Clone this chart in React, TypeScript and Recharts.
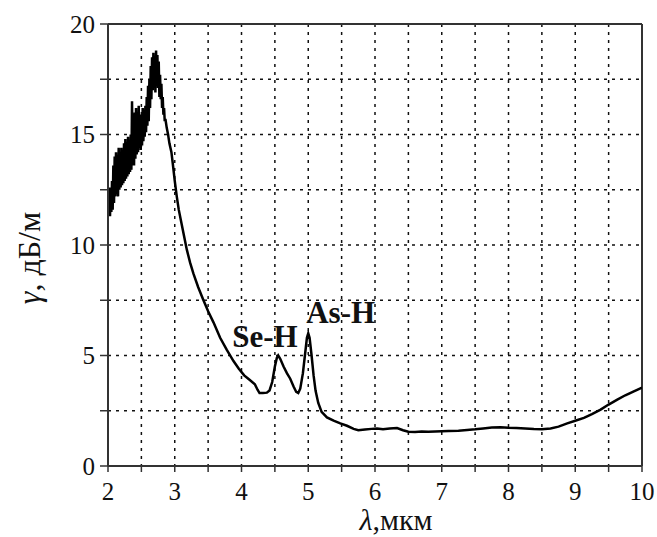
import React from 'react';
import { LineChart, Line, XAxis, YAxis, CartesianGrid, ReferenceLine, ReferenceDot } from 'recharts';

// wavelength, µm
const WAVELENGTH = [
  2.00, 2.01, 2.02, 2.03, 2.04, 2.05, 2.06, 2.07, 2.08, 2.09,
  2.10, 2.11, 2.12, 2.13, 2.14, 2.15, 2.16, 2.17, 2.18, 2.19,
  2.20, 2.21, 2.22, 2.23, 2.24, 2.25, 2.26, 2.27, 2.28, 2.29,
  2.30, 2.31, 2.32, 2.33, 2.34, 2.35, 2.36, 2.37, 2.38, 2.39,
  2.40, 2.41, 2.42, 2.43, 2.44, 2.45, 2.46, 2.47, 2.48, 2.49,
  2.50, 2.51, 2.52, 2.53, 2.54, 2.55, 2.56, 2.57, 2.58, 2.59,
  2.60, 2.61, 2.62, 2.63, 2.64, 2.65, 2.66, 2.67, 2.68, 2.69,
  2.70, 2.71, 2.72, 2.73, 2.74, 2.75, 2.76, 2.77, 2.78, 2.79,
  2.80, 2.81, 2.82, 2.83, 2.84, 2.85, 2.86, 2.88, 2.90, 2.92,
  2.95, 2.97, 3.00, 3.03, 3.06, 3.10, 3.14, 3.18, 3.23, 3.28,
  3.35, 3.43, 3.50, 3.58, 3.68, 3.78, 3.88, 3.96, 4.04, 4.12,
  4.20, 4.24, 4.27, 4.32, 4.38, 4.42, 4.46, 4.50, 4.53, 4.55,
  4.58, 4.63, 4.68, 4.73, 4.78, 4.82, 4.85, 4.88, 4.92, 4.95,
  4.98, 5.00, 5.02, 5.05, 5.08, 5.11, 5.15, 5.20, 5.28, 5.38,
  5.48, 5.58, 5.68, 5.75, 5.85, 5.95, 6.03, 6.12, 6.22, 6.33,
  6.42, 6.50, 6.60, 6.70, 6.80, 6.90, 7.00, 7.10, 7.25, 7.38,
  7.50, 7.62, 7.75, 7.88, 8.00, 8.12, 8.25, 8.38, 8.50, 8.63,
  8.75, 8.88, 9.00, 9.13, 9.25, 9.38, 9.50, 9.63, 9.75, 9.87,
  10.00,
];

// attenuation, dB/m
const ATTENUATION = [
  12.5, 11.4, 12.6, 11.3, 12.4, 11.5, 12.9, 11.6, 13.6, 11.9,
  14.0, 12.2, 14.2, 12.3, 13.8, 12.2, 14.4, 12.5, 14.1, 12.6,
  14.4, 12.7, 14.0, 12.8, 14.6, 12.9, 14.8, 13.0, 14.4, 13.1,
  14.9, 13.2, 14.6, 13.3, 15.0, 13.4, 16.5, 13.6, 15.4, 13.6,
  16.0, 13.9, 16.2, 14.1, 15.6, 14.2, 16.3, 14.4, 15.9, 14.3,
  15.7, 14.5, 16.2, 14.7, 15.9, 14.9, 16.3, 15.1, 16.7, 15.4,
  17.2, 15.6, 17.5, 16.2, 18.1, 16.6, 18.5, 17.0, 18.7, 17.2,
  18.4, 16.9, 18.8, 17.3, 18.6, 17.1, 18.3, 16.7, 17.7, 16.6,
  17.3, 16.2, 16.7, 15.9, 16.2, 15.6, 15.7, 15.3, 15.0, 14.6,
  14.2, 13.7, 12.9, 12.2, 11.6, 11.0, 10.4, 9.8, 9.2, 8.7,
  8.1, 7.5, 7.0, 6.5, 5.8, 5.25, 4.75, 4.4, 4.1, 3.9,
  3.7, 3.45, 3.3, 3.3, 3.32, 3.42, 3.8, 4.5, 4.9, 5.0,
  4.85, 4.5, 4.2, 3.95, 3.6, 3.35, 3.3, 3.5, 4.2, 5.0,
  5.8, 6.0, 5.8, 5.0, 4.1, 3.4, 2.85, 2.45, 2.2, 2.05,
  1.93, 1.82, 1.68, 1.62, 1.65, 1.68, 1.70, 1.66, 1.70, 1.72,
  1.62, 1.55, 1.54, 1.56, 1.55, 1.56, 1.57, 1.58, 1.60, 1.63,
  1.66, 1.70, 1.74, 1.75, 1.73, 1.72, 1.70, 1.67, 1.66, 1.70,
  1.78, 1.93, 2.05, 2.18, 2.35, 2.55, 2.78, 3.0, 3.2, 3.37,
  3.55,
];

const X_TICKS = [2, 2.5, 3, 3.5, 4, 4.5, 5, 5.5, 6, 6.5, 7, 7.5, 8, 8.5, 9, 9.5, 10];
const Y_TICKS = [0, 2.5, 5, 7.5, 10, 12.5, 15, 17.5, 20];

// peak labels: [text, x, y] of the text's baseline start
const PEAK_LABELS: [string, number, number][] = [
  ['Se-H', 3.86, 5.38],
  ['As-H', 4.97, 6.47],
];

const data = WAVELENGTH.map((wl, i) => ({ wl, g: ATTENUATION[i] }));

const SERIF = "'Liberation Serif', 'DejaVu Serif', serif";
const INK = '#111';

const wholeOnly = (v: number) => (Number.isInteger(v) ? String(v) : '');
const everyFive = (v: number) => (v % 5 === 0 ? String(v) : '');

const PeakText = ({ cx, cy, text }: any) => (
  <text x={cx} y={cy} fontFamily={SERIF} fontWeight="bold" fontSize={31} fill={INK}>
    {text}
  </text>
);

const tickStyle = { fontFamily: SERIF, fontSize: 25, fill: INK };

export default function App() {
  return (
    <div style={{ position: 'absolute', left: 0, top: 0, background: '#fff', fontFamily: SERIF }}>
      <LineChart width={657} height={537} data={data} margin={{ top: 24, right: 15, left: 0, bottom: 0 }}>
        <CartesianGrid stroke={INK} strokeWidth={1.5} strokeDasharray="3 5" />
        <XAxis
          type="number"
          dataKey="wl"
          domain={[2, 10]}
          ticks={X_TICKS}
          tickFormatter={wholeOnly}
          interval={0}
          height={71}
          tickSize={6}
          tickMargin={10}
          axisLine={{ stroke: '#333', strokeWidth: 2 }}
          tickLine={{ stroke: '#333', strokeWidth: 1.5 }}
          tick={tickStyle}
          allowDataOverflow
          label={{
            content: () => (
              <text x={396} y={530} textAnchor="middle" fontFamily={SERIF} fontSize={30} fill={INK}>
                <tspan fontStyle="italic">λ</tspan>,мкм
              </text>
            ),
          }}
        />
        <YAxis
          type="number"
          domain={[0, 20]}
          ticks={Y_TICKS}
          tickFormatter={everyFive}
          interval={0}
          width={108}
          tickSize={8}
          tickMargin={5}
          axisLine={{ stroke: '#333', strokeWidth: 2 }}
          tickLine={{ stroke: '#333', strokeWidth: 1.5 }}
          tick={tickStyle}
          allowDataOverflow
          label={{
            content: () => (
              <text
                x={40}
                y={258}
                transform="rotate(-90 40 258)"
                textAnchor="middle"
                fontFamily={SERIF}
                fontSize={32}
                fill={INK}
              >
                <tspan fontStyle="italic">γ</tspan>, дБ/м
              </text>
            ),
          }}
        />
        <ReferenceLine y={20} stroke="#333" strokeWidth={2} />
        <ReferenceLine x={10} stroke="#333" strokeWidth={2} />
        <Line
          type="linear"
          dataKey="g"
          stroke="#000"
          strokeWidth={2.5}
          dot={false}
          isAnimationActive={false}
        />
        {PEAK_LABELS.map(([text, x, y]) => (
          <ReferenceDot key={text} x={x} y={y} r={0} shape={(p: any) => <PeakText {...p} text={text} />} />
        ))}
      </LineChart>
    </div>
  );
}
